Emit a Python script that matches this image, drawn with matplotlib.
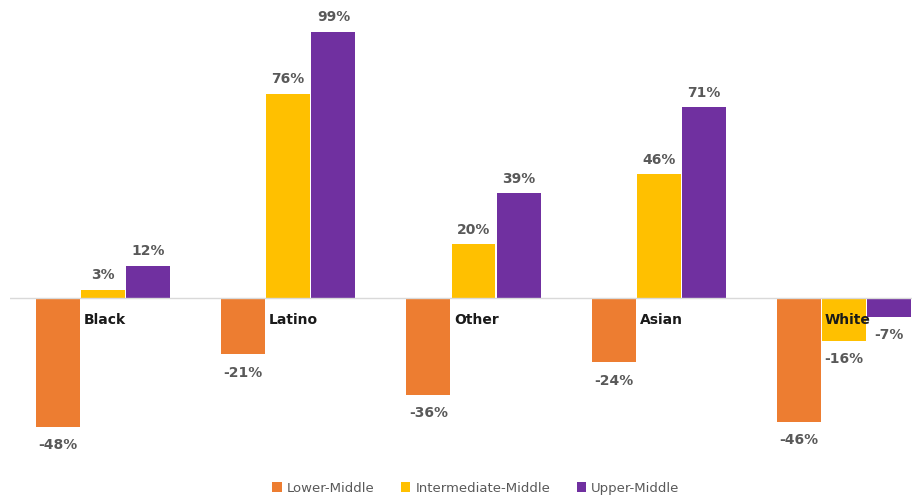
import matplotlib
matplotlib.use("Agg")
import matplotlib.pyplot as plt
import numpy as np
from matplotlib.patches import Patch

# DATA
categories = ["Black", "Latino", "Other", "Asian", "White"]
series_names = ["Lower-Middle", "Intermediate-Middle", "Upper-Middle"]
lower_middle = [-48, -21, -36, -24, -46]
intermediate_middle = [3, 76, 20, 46, -16]
upper_middle = [12, 99, 39, 71, -7]
colors = ["#ED7D31", "#FFC000", "#7030A0"]

W, H = 924, 498
fig = plt.figure(figsize=(W / 100, H / 100), dpi=100)

# axes placed in pixel coords: x 10..912, y 15..460 (top-down)
ax = fig.add_axes([10 / W, 1 - 460 / H, 902 / W, 445 / H])
ax.axis("off")

step = 185.25
ax.set_xlim((10 - 103) / step, (912 - 103) / step)
pxu = 266 / 99.0
ax.set_ylim(-(460 - 298) / pxu, (298 - 15) / pxu)

x = np.arange(len(categories))
bw = 44 / step
gap = 1.2 / step
offsets = [-(bw + gap), 0, bw + gap]
values = [lower_middle, intermediate_middle, upper_middle]

for vals, off, col in zip(values, offsets, colors):
    ax.bar(x + off, vals, width=bw, color=col, zorder=2)
    for xi, v in zip(x, vals):
        if v >= 0:
            ax.annotate(f"{v}%", (xi + off, v), xytext=(0, 5.5), textcoords="offset points",
                        ha="center", va="bottom", fontsize=10, fontweight="bold", color="#595959")
        else:
            ax.annotate(f"{v}%", (xi + off, v), xytext=(0, -8), textcoords="offset points",
                        ha="center", va="top", fontsize=10, fontweight="bold", color="#595959")

ax.axhline(0, color="#D9D9D9", linewidth=1, zorder=3)

# category labels just right of the orange bar, below zero
for xi, cat in zip(x, categories):
    ax.annotate(cat, (xi - bw / 2, 0), xytext=(2, -10.5), textcoords="offset points",
                ha="left", va="top", fontsize=10, fontweight="bold", color="#1a1a1a", zorder=4)

handles = [Patch(facecolor=c, edgecolor="none") for c in colors]
fig.legend(handles, series_names, loc="center", bbox_to_anchor=(476 / W, 1 - 488 / H),
           ncol=3, frameon=False, fontsize=9.5, labelcolor="#595959",
           handlelength=0.7, handleheight=0.7, handletextpad=0.4, columnspacing=2.0)

fig.savefig("out.png", dpi=100)
